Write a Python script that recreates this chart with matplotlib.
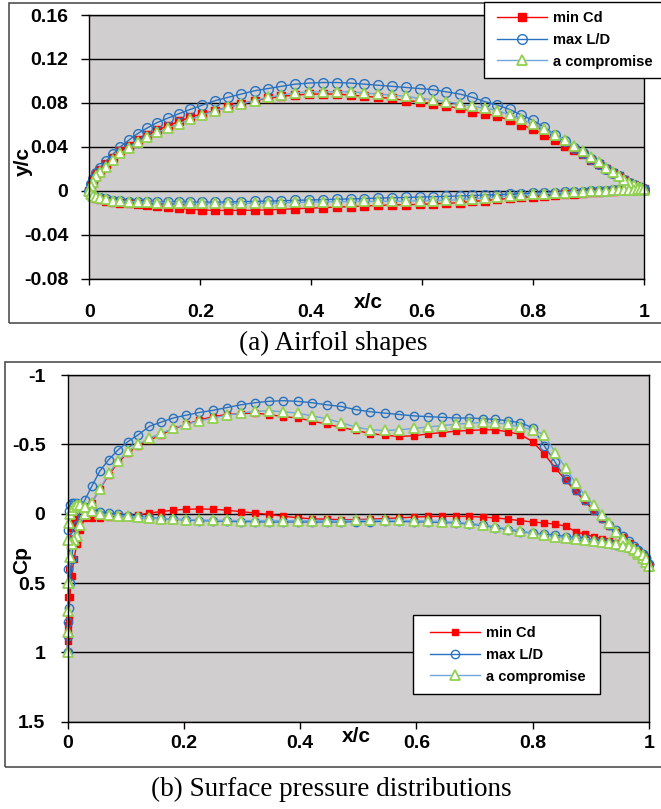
import numpy as np
import matplotlib
matplotlib.use("Agg")
import matplotlib.pyplot as plt
from matplotlib.patches import Rectangle

# ---------------- data ----------------
series_labels = ["min Cd", "max L/D", "a compromise"]

shape_x = [0.000, 0.002, 0.006, 0.012, 0.020, 0.030, 0.042, 0.056, 0.071, 0.087,
           0.104, 0.122, 0.141, 0.161, 0.182, 0.204, 0.227, 0.250, 0.274, 0.298,
           0.322, 0.346, 0.371, 0.396, 0.421, 0.446, 0.471, 0.496, 0.521, 0.546,
           0.571, 0.596, 0.620, 0.644, 0.668, 0.691, 0.714, 0.736, 0.758, 0.779,
           0.800, 0.820, 0.839, 0.857, 0.874, 0.890, 0.905, 0.919, 0.932, 0.944,
           0.955, 0.965, 0.974, 0.982, 0.989, 0.995, 1.000]

mincd_upper = [0.000, 0.005, 0.010, 0.015, 0.019, 0.024, 0.030, 0.036, 0.041, 0.046,
               0.051, 0.055, 0.059, 0.063, 0.067, 0.070, 0.073, 0.076, 0.079, 0.082,
               0.084, 0.086, 0.087, 0.088, 0.088, 0.088, 0.087, 0.086, 0.085, 0.084,
               0.082, 0.081, 0.079, 0.077, 0.075, 0.072, 0.070, 0.068, 0.064, 0.060,
               0.056, 0.051, 0.046, 0.041, 0.037, 0.033, 0.028, 0.024, 0.020, 0.016,
               0.013, 0.010, 0.007, 0.005, 0.003, 0.002, 0.001]
mincd_lower = [0.000, -0.003, -0.005, -0.007, -0.008, -0.009, -0.010, -0.011, -0.0115, -0.012,
               -0.013, -0.014, -0.015, -0.016, -0.017, -0.0175, -0.018, -0.018, -0.018, -0.0178,
               -0.0175, -0.017, -0.0165, -0.016, -0.0155, -0.015, -0.0145, -0.014, -0.0135, -0.013,
               -0.0128, -0.0125, -0.012, -0.0115, -0.011, -0.0098, -0.009, -0.008, -0.007, -0.0062,
               -0.0055, -0.0048, -0.004, -0.0033, -0.0027, -0.0021, -0.0015, -0.001, -0.0005, 0.0,
               0.0004, 0.0007, 0.0009, 0.001, 0.0011, 0.0012, 0.0013]

maxld_upper = [0.000, 0.006, 0.011, 0.016, 0.021, 0.027, 0.033, 0.040, 0.046, 0.052,
               0.057, 0.062, 0.066, 0.070, 0.074, 0.078, 0.082, 0.085, 0.088, 0.091,
               0.093, 0.095, 0.097, 0.098, 0.0985, 0.0985, 0.098, 0.097, 0.096, 0.095,
               0.094, 0.093, 0.092, 0.090, 0.088, 0.085, 0.081, 0.078, 0.074, 0.069,
               0.064, 0.058, 0.051, 0.045, 0.039, 0.034, 0.029, 0.024, 0.020, 0.016,
               0.013, 0.010, 0.007, 0.005, 0.003, 0.002, 0.001]
maxld_lower = [0.000, -0.003, -0.005, -0.006, -0.007, -0.008, -0.009, -0.0095, -0.010, -0.010,
               -0.0105, -0.0105, -0.0105, -0.0105, -0.0105, -0.0105, -0.0105, -0.0103, -0.010, -0.0098,
               -0.0095, -0.0092, -0.0088, -0.0085, -0.0082, -0.0078, -0.0075, -0.0072, -0.0068, -0.0065,
               -0.0062, -0.0058, -0.0055, -0.0052, -0.0048, -0.0044, -0.004, -0.0036, -0.0032, -0.0028,
               -0.0024, -0.002, -0.0017, -0.0014, -0.0011, -0.0008, -0.0005, -0.0002, 0.0, 0.0003,
               0.0005, 0.0007, 0.0009, 0.001, 0.0011, 0.0012, 0.0013]

comp_upper = [0.000, 0.004, 0.008, 0.013, 0.017, 0.022, 0.028, 0.034, 0.039, 0.044,
              0.049, 0.053, 0.057, 0.061, 0.065, 0.069, 0.073, 0.076, 0.079, 0.082,
              0.085, 0.087, 0.089, 0.090, 0.090, 0.090, 0.090, 0.089, 0.088, 0.087,
              0.086, 0.084, 0.083, 0.081, 0.079, 0.077, 0.075, 0.073, 0.069, 0.065,
              0.061, 0.056, 0.051, 0.046, 0.041, 0.036, 0.031, 0.026, 0.021, 0.017,
              0.013, 0.010, 0.007, 0.005, 0.003, 0.002, 0.001]
comp_lower = [0.000, -0.003, -0.005, -0.006, -0.007, -0.008, -0.009, -0.0095, -0.010, -0.0102,
              -0.0105, -0.0108, -0.011, -0.0112, -0.0114, -0.0115, -0.0116, -0.0116, -0.0116, -0.0115,
              -0.0113, -0.011, -0.0107, -0.0105, -0.0103, -0.010, -0.0099, -0.0098, -0.0097, -0.0096,
              -0.0095, -0.0093, -0.0091, -0.0088, -0.0083, -0.0075, -0.0066, -0.0057, -0.0048, -0.004,
              -0.0033, -0.0027, -0.0022, -0.0017, -0.0013, -0.0009, -0.0005, -0.0002, 0.0, 0.0003,
              0.0005, 0.0007, 0.0009, 0.001, 0.0011, 0.0012, 0.0013]

cp_x = [0.000, 0.0005, 0.001, 0.002, 0.004, 0.007, 0.011, 0.016, 0.022, 0.030,
        0.042, 0.056, 0.071, 0.087, 0.104, 0.122, 0.141, 0.161, 0.182, 0.204,
        0.227, 0.250, 0.274, 0.298, 0.322, 0.346, 0.371, 0.396, 0.421, 0.446,
        0.471, 0.496, 0.521, 0.546, 0.571, 0.596, 0.620, 0.644, 0.668, 0.691,
        0.714, 0.736, 0.758, 0.779, 0.800, 0.820, 0.839, 0.857, 0.874, 0.890,
        0.905, 0.919, 0.932, 0.944, 0.955, 0.965, 0.974, 0.982, 0.989, 0.995,
        1.000]

mincd_cp_upper = [1.00, 0.92, 0.85, 0.75, 0.60, 0.45, 0.33, 0.22, 0.12, 0.02,
                  -0.08, -0.18, -0.28, -0.37, -0.44, -0.49, -0.53, -0.57, -0.61, -0.645,
                  -0.675, -0.70, -0.715, -0.722, -0.725, -0.715, -0.70, -0.69, -0.668, -0.645,
                  -0.622, -0.60, -0.578, -0.565, -0.557, -0.562, -0.575, -0.585, -0.595, -0.60,
                  -0.605, -0.605, -0.59, -0.57, -0.52, -0.43, -0.33, -0.24, -0.16, -0.09,
                  -0.02, 0.04, 0.09, 0.13, 0.17, 0.21, 0.24, 0.27, 0.30, 0.33,
                  0.37]
mincd_cp_lower = [1.00, 0.80, 0.60, 0.40, 0.22, 0.10, 0.05, 0.03, 0.03, 0.03,
                  0.03, 0.03, 0.025, 0.02, 0.015, 0.01, -0.005, -0.015, -0.025, -0.032,
                  -0.034, -0.032, -0.025, -0.015, -0.005, 0.005, 0.018, 0.03, 0.037, 0.04,
                  0.043, 0.043, 0.04, 0.035, 0.03, 0.025, 0.02, 0.019, 0.019, 0.02,
                  0.025, 0.03, 0.04, 0.05, 0.06, 0.067, 0.075, 0.09, 0.13, 0.15,
                  0.165, 0.18, 0.20, 0.215, 0.23, 0.245, 0.26, 0.28, 0.31, 0.34,
                  0.37]

maxld_cp_upper = [1.00, 0.88, 0.78, 0.68, 0.50, 0.33, 0.18, 0.08, -0.02, -0.10,
                  -0.20, -0.31, -0.39, -0.46, -0.52, -0.57, -0.63, -0.66, -0.69, -0.71,
                  -0.73, -0.745, -0.765, -0.785, -0.80, -0.81, -0.815, -0.81, -0.80, -0.785,
                  -0.773, -0.75, -0.735, -0.725, -0.715, -0.705, -0.70, -0.695, -0.69, -0.69,
                  -0.685, -0.68, -0.67, -0.655, -0.62, -0.49, -0.37, -0.25, -0.17, -0.10,
                  -0.03, 0.03, 0.08, 0.12, 0.16, 0.20, 0.23, 0.26, 0.29, 0.32,
                  0.36]
maxld_cp_lower = [1.00, 0.40, 0.12, -0.02, -0.06, -0.075, -0.08, -0.075, -0.065, -0.05,
                  -0.03, -0.015, -0.005, 0.005, 0.015, 0.022, 0.03, 0.035, 0.04, 0.045,
                  0.05, 0.052, 0.055, 0.057, 0.058, 0.06, 0.06, 0.06, 0.06, 0.06,
                  0.06, 0.058, 0.057, 0.056, 0.056, 0.058, 0.06, 0.063, 0.067, 0.075,
                  0.085, 0.10, 0.115, 0.13, 0.14, 0.148, 0.155, 0.165, 0.175, 0.185,
                  0.195, 0.205, 0.215, 0.225, 0.235, 0.245, 0.255, 0.27, 0.29, 0.32,
                  0.36]

comp_cp_upper = [1.00, 0.85, 0.70, 0.50, 0.31, 0.22, 0.19, 0.16, 0.08, 0.00,
                 -0.08, -0.18, -0.29, -0.38, -0.45, -0.50, -0.545, -0.58, -0.615, -0.645,
                 -0.67, -0.69, -0.71, -0.725, -0.738, -0.742, -0.735, -0.725, -0.705, -0.685,
                 -0.655, -0.625, -0.605, -0.60, -0.605, -0.615, -0.625, -0.635, -0.645, -0.652,
                 -0.658, -0.655, -0.645, -0.625, -0.605, -0.57, -0.44, -0.33, -0.22, -0.13,
                 -0.06, 0.01, 0.07, 0.13, 0.18, 0.22, 0.26, 0.29, 0.32, 0.35,
                 0.38]
comp_cp_lower = [1.00, 0.50, 0.19, 0.07, 0.00, -0.03, -0.05, -0.06, -0.065, -0.05,
                 -0.02, 0.00, 0.01, 0.015, 0.02, 0.025, 0.03, 0.035, 0.04, 0.042,
                 0.045, 0.047, 0.048, 0.05, 0.05, 0.05, 0.05, 0.05, 0.05, 0.05,
                 0.05, 0.048, 0.047, 0.046, 0.047, 0.05, 0.053, 0.057, 0.062, 0.07,
                 0.08, 0.095, 0.11, 0.125, 0.14, 0.155, 0.165, 0.172, 0.18, 0.187,
                 0.195, 0.203, 0.21, 0.22, 0.23, 0.24, 0.255, 0.275, 0.30, 0.33,
                 0.38]

x_ticks = [0, 0.2, 0.4, 0.6, 0.8, 1.0]
x_tick_labels = ["0", "0.2", "0.4", "0.6", "0.8", "1"]
shape_y_ticks = [0.16, 0.12, 0.08, 0.04, 0.0, -0.04, -0.08]
shape_y_tick_labels = ["0.16", "0.12", "0.08", "0.04", "0", "-0.04", "-0.08"]
cp_y_ticks = [-1, -0.5, 0, 0.5, 1, 1.5]
cp_y_tick_labels = ["-1", "-0.5", "0", "0.5", "1", "1.5"]

# ---------------- style ----------------
W, H = 661, 809
SANS = ["Liberation Sans", "DejaVu Sans"]
SERIF = ["Liberation Serif", "DejaVu Serif"]
plt.rcParams["font.family"] = SANS

RED = "#FF0000"
BLUE = "#2872C2"
LBLUE = "#6FA8DC"
GREEN = "#92D050"
BG = "#D0CECE"

styles = [
    dict(color=RED, marker="s", mfc=RED, mec=RED, lw=1.0),
    dict(color=BLUE, marker="o", mfc="none", mec=BLUE, lw=1.0, mew=1.0),
    dict(color=LBLUE, marker="^", mfc="white", mec=GREEN, lw=1.0, mew=1.3),
]
ms_top = [5.2, 7.0, 7.4]
ms_bot = [4.6, 6.0, 6.8]

fig = plt.figure(figsize=(W / 100, H / 100), dpi=100)


def px_rect(x0, y0, x1, y1):
    return [x0 / W, 1 - y1 / H, (x1 - x0) / W, (y1 - y0) / H]


def fig_box(x0, y0, x1, y1, **kw):
    r = Rectangle((x0 / W, 1 - y1 / H), (x1 - x0) / W, (y1 - y0) / H,
                  transform=fig.transFigure, **kw)
    fig.patches.append(r)
    return r


# outer panel frames
fig_box(9, 3, 690, 323, fill=False, edgecolor="#505050", lw=1.2, zorder=0.5)
fig_box(5, 362, 690, 767, fill=False, edgecolor="#505050", lw=1.2, zorder=0.5)


def style_axes(ax, yt, ytl, xpad, ypad, xlen, ylen):
    ax.set_facecolor(BG)
    ax.set_xticks(x_ticks)
    ax.set_xticklabels(x_tick_labels)
    ax.set_yticks(yt)
    ax.set_yticklabels(ytl)
    ax.yaxis.grid(True, color="black", lw=1.0)
    ax.xaxis.grid(False)
    ax.set_axisbelow(True)
    ax.tick_params(axis="x", direction="out", length=xlen, width=1.0, pad=xpad,
                   labelsize=14, colors="black")
    ax.tick_params(axis="y", direction="out", length=ylen, width=1.0, pad=ypad,
                   labelsize=14, colors="black")
    for lab in ax.get_xticklabels() + ax.get_yticklabels():
        lab.set_fontweight("bold")
    for s in ax.spines.values():
        s.set_color("black")
        s.set_linewidth(1.0)


# ---- panel (a): airfoil shapes ----
ax1 = fig.add_axes(px_rect(89.4, 15, 643.8, 278.5))
ax1.set_xlim(0, 1)
ax1.set_ylim(-0.08, 0.16)
style_axes(ax1, shape_y_ticks, shape_y_tick_labels, 14, 9.5, 4.3, 5.8)

shape_sets = [(mincd_upper, mincd_lower), (maxld_upper, maxld_lower), (comp_upper, comp_lower)]
handles = []
for (up, lo), st, ms, lab in zip(shape_sets, styles, ms_top, series_labels):
    xs = np.concatenate([np.array(shape_x)[::-1], np.array(shape_x)[1:]])
    ys = np.concatenate([np.array(up)[::-1], np.array(lo)[1:]])
    ln, = ax1.plot(xs, ys, ms=ms, label=lab, clip_on=False, **st)
    handles.append(ln)

# ---- panel (b): surface pressure ----
ax2 = fig.add_axes(px_rect(67.5, 375, 648.9, 721.7))
ax2.set_xlim(0, 1)
ax2.set_ylim(1.5, -1)
style_axes(ax2, cp_y_ticks, cp_y_tick_labels, 4.5, 10.5, 5.0, 5.4)

cp_sets = [(mincd_cp_upper, mincd_cp_lower), (maxld_cp_upper, maxld_cp_lower),
           (comp_cp_upper, comp_cp_lower)]
handles2 = []
for (up, lo), st, ms, lab in zip(cp_sets, styles, ms_bot, series_labels):
    xs = np.concatenate([np.array(cp_x)[::-1], np.array(cp_x)[1:]])
    ys = np.concatenate([np.array(up)[::-1], np.array(lo)[1:]])
    ln, = ax2.plot(xs, ys, ms=ms, label=lab, clip_on=False, **st)
    handles2.append(ln)

# ---- legends ----
fig_box(484, 2, 700, 78, facecolor="white", edgecolor="black", lw=1.0, zorder=4)
fig_box(413, 615, 600, 694, facecolor="white", edgecolor="black", lw=1.0, zorder=4)

leg_kw = dict(loc="center left", frameon=False, borderpad=0, borderaxespad=0,
              handlelength=3.4, handletextpad=0.45, labelspacing=0.52, numpoints=1,
              prop=dict(family=SANS, weight="bold", size=10.5))
leg1 = fig.legend(handles, series_labels, bbox_to_anchor=(497 / W, 1 - 40 / H),
                  bbox_transform=fig.transFigure, **leg_kw)
leg1.set_zorder(5)
leg2 = fig.legend(handles2, series_labels, bbox_to_anchor=(430 / W, 1 - 655 / H),
                  bbox_transform=fig.transFigure, **leg_kw)
leg2.set_zorder(5)

# ---- axis titles and captions ----
lab_kw = dict(ha="center", va="center", fontsize=15, fontweight="bold")
fig.text(23 / W, 1 - 162 / H, "y/c", rotation=90, **lab_kw)
fig.text(368 / W, 1 - 303 / H, "x/c", **lab_kw)
fig.text(22 / W, 1 - 560 / H, "Cp", rotation=90, **lab_kw)
fig.text(356 / W, 1 - 737 / H, "x/c", **lab_kw)

fig.text(333 / W, 1 - 343 / H, "(a) Airfoil shapes", family=SERIF, fontsize=19.5,
         ha="center", va="center")
fig.text(331 / W, 1 - 789 / H, "(b) Surface pressure distributions", family=SERIF,
         fontsize=19.5, ha="center", va="center")

fig.savefig("out.png", dpi=100)
